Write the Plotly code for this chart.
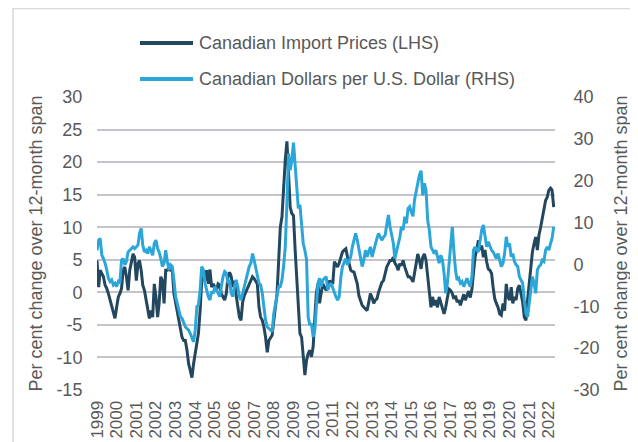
import pandas as pd
import plotly.graph_objects as go

# ---------------- data (monthly, Jan 1999 onward) ----------------
start_month = "1999-01-01"

import_prices = [
    4.9, 0.8, 3.4, 2.9, 2.4, 1.1, 0.6, -0.2, -1.2, -2.3, -3.3, -4.0,
    -2.3, -0.7, -0.2, 0.6, 3.4, 3.9, 2.4, 0.3, 3.4, 4.9, 5.9, 5.4,
    1.8, 4.4, 4.9, 3.4, 1.1, 0.3, -1.2, -2.8, -4.0, -2.8, -3.8, 1.3,
    -0.7, -3.8, -1.7, 2.4, 1.8, -1.7, 3.4, 3.4, 3.9, 3.4, 3.4, -0.2,
    -1.5, -2.8, -3.8, -5.5, -6.9, -7.4, -7.4, -8.9, -11.0, -12.0, -13.1, -11.0,
    -9.4, -7.9, -6.3, -2.8, 1.8, 3.4, 1.8, 3.4, 1.3, 3.5, 0.8, 1.3,
    0.8, 0.3, 1.3, 1.1, -0.2, -0.7, -1.2, -0.2, 2.4, 3.1, 2.4, 0.8,
    1.8, -0.5, -2.3, -3.8, -4.3, -1.5, -0.5, 0.1, 0.6, 1.3, 1.8, 2.4,
    2.1, 1.6, 1.3, -2.3, -3.8, -4.3, -5.3, -6.9, -9.2, -7.4, -6.9, -6.6,
    -4.3, -2.3, -0.2, 4.9, 10.0, 11.6, 16.2, 20.3, 23.2, 18.7, 13.1, 12.1,
    11.8, 6.5, 2.4, -2.3, -6.3, -6.9, -9.4, -12.7, -10.4, -9.4, -8.9, -9.9,
    -8.4, -3.8, -0.2, 1.3, -1.7, 0.0, 1.3, 0.8, 0.3, 1.0, 1.8, 1.5,
    1.3, 4.7, 4.2, 3.9, 4.5, 5.5, 6.2, 6.5, 6.7, 5.5, 4.5, 3.4,
    3.2, 3.1, 2.2, 1.3, -0.5, -1.2, -2.0, -2.3, -2.6, -2.8, -1.5, -0.2,
    -0.8, -1.7, -1.2, -1.0, 0.0, 0.8, 1.5, 1.8, 2.8, 3.9, 4.4, 4.9,
    4.9, 5.4, 4.5, 4.1, 3.4, 4.4, 4.1, 4.9, 3.9, 3.1, 2.4, 2.4,
    2.1, 1.6, 2.9, 4.9, 5.9, 4.9, 3.6, 5.4, 5.9, 4.9, 2.4, -0.2,
    -2.3, -0.7, -2.0, -1.2, -2.3, -0.7, -1.7, -2.3, -3.3, -2.3, -0.5, 0.5,
    0.3, -0.2, -1.0, -0.5, -1.5, -1.2, -2.0, -1.0, -0.3, -1.2, -0.5, 0.2,
    -0.8, 0.5, 3.0, 5.5, 6.5, 8.0, 6.5, 7.2, 5.4, 6.5, 4.7, 3.6,
    3.4, 2.9, 0.8, -1.0, -1.7, -2.3, -3.3, -3.5, -1.7, -2.8, 1.3, -0.7,
    -1.2, 0.8, -1.7, -0.7, -1.2, 0.6, 1.1, -0.2, -1.5, -3.8, -4.3, -1.2,
    1.8, 3.9, 6.2, 7.5, 8.5, 6.5, 8.8, 10.0, 11.6, 13.1, 14.1, 14.6,
    15.7, 16.0, 15.7, 13.1,
]

cad_per_usd = [
    3.4, 5.8, 6.2, 2.2, 1.4, 0.3, -1.3, -3.3, -4.1, -3.7, -4.9, -4.5,
    -5.3, -4.1, -4.5, 1.0, 1.4, -0.1, 0.7, 3.0, 3.4, 3.8, 4.2, 3.8,
    4.2, 4.6, 7.4, 8.6, 4.6, 3.0, 3.4, 2.6, 4.2, 3.4, 2.2, 5.0,
    5.8, 3.8, 3.0, 1.4, -0.5, 0.3, 3.4, 0.7, -1.3, -0.1, -0.5, -3.7,
    -7.7, -9.3, -10.9, -12.5, -12.9, -14.1, -14.9, -15.3, -15.7, -16.5, -17.7, -18.5,
    -15.7, -10.1, -9.7, -6.1, -0.5, -1.3, -4.5, -6.1, -7.7, -8.5, -6.5, -6.9,
    -5.3, -6.1, -6.9, -7.7, -5.3, -2.9, -1.7, -2.1, -4.5, -3.7, -6.9, -7.7,
    -5.3, -3.7, -5.3, -7.7, -8.5, -6.9, -5.3, -3.7, -2.1, -0.5, 0.3, 2.6,
    1.0, -0.9, -2.1, -4.5, -4.9, -6.9, -10.1, -13.3, -14.9, -15.3, -15.7, -16.1,
    -11.7, -9.3, -7.7, -5.3, -5.3, -3.7, -0.5, 4.2, 14.6, 26.5, 22.5, 24.9,
    29.1, 24.1, 18.6, 13.4, 14.2, 9.0, 5.0, 3.4, 1.1, -12.6, -14.5, -14.1,
    -17.3, -15.7, -10.1, -4.5, -3.3, -5.3, -3.7, -3.3, -2.9, -6.1, -5.0, -4.5,
    -5.7, -6.9, -7.7, -8.5, -7.7, -3.0, -0.5, 0.5, 1.4, -0.1, 1.0, 1.8,
    4.2, 6.0, 7.4, 5.8, 3.4, 1.0, -0.5, 1.1, 3.4, 1.8, 3.0, 4.2,
    1.8, 3.5, 5.0, 6.2, 7.4, 6.5, 5.8, 6.5, 7.0, 9.5, 11.8, 9.0,
    7.0, 5.0, 1.4, 3.0, 4.2, 6.5, 9.0, 8.2, 11.4, 9.8, 13.4, 13.8,
    12.5, 11.5, 15.4, 17.8, 19.4, 21.4, 22.4, 16.5, 19.4, 17.8, 10.6, 8.2,
    4.2, 3.4, 2.6, 3.4, 1.8, 0.3, 2.2, 1.1, -2.1, -6.9, -4.5, -0.5,
    3.4, 9.0, 3.4, -1.3, -3.7, -3.3, -4.5, -4.1, -5.3, -4.1, -3.3, -4.5,
    -5.3, -2.9, 3.4, 4.2, 3.4, 3.0, 5.8, 8.2, 9.4, 6.6, 4.2, 5.4,
    4.2, 3.4, 3.0, 2.2, 1.4, 2.6, 1.0, -0.5, 0.3, 2.6, 6.6, 4.2,
    5.0, 1.8, 2.6, 0.7, -0.1, -0.5, -2.9, -3.7, -4.5, -8.5, -11.7, -12.5,
    -9.3, -5.3, -2.9, -4.5, -6.9, -1.3, -0.5, -0.1, 1.0, 0.7, 3.4, 4.2,
    3.4, 5.0, 6.2, 9.0,
]

year_labels = ["1999", "2000", "2001", "2002", "2003", "2004", "2005", "2006",
               "2007", "2008", "2009", "2010", "2011", "2012", "2013", "2014",
               "2015", "2016", "2017", "2018", "2019", "2020", "2021", "2022"]

left_ticks = [-15, -10, -5, 0, 5, 10, 15, 20, 25, 30]
left_labels = ["-15", "-10", "-5", "0", "5", "10", "15", "20", "25", "30"]
right_ticks = [-30, -20, -10, 0, 10, 20, 30, 40]
right_labels = ["-30", "-20", "-10", "0", "10", "20", "30", "40"]

series_names = ["Canadian Import Prices (LHS)", "Canadian Dollars per U.S. Dollar (RHS)"]
axis_title = "Per cent change over 12-month span"

# ---------------- styling ----------------
DARK = "#23475E"
LIGHT = "#2CA6D8"
GRID = "#C4C4CA"
FRAME = "#D9D9D9"
TEXT = "#595959"
FONT = "Liberation Sans, Arial, sans-serif"
CLEAR = "rgba(0,0,0,0)"

W, H = 638, 442
L, T = 89, 89           # page is offset by the 8px body margin
pw, ph = 458, 293
R, B = W - L - pw, H - T - ph


def px_x(px):
    return (px - L) / pw


def px_y(py):
    return (T + ph - py) / ph


months = pd.date_range(start_month, periods=len(import_prices), freq="MS")
tick_dates = [f"{y}-01-01" for y in year_labels]

fig = go.Figure()
fig.add_trace(go.Scatter(x=months, y=import_prices, mode="lines", name=series_names[0],
                         line=dict(color=DARK, width=3), yaxis="y"))
fig.add_trace(go.Scatter(x=months, y=cad_per_usd, mode="lines", name=series_names[1],
                         line=dict(color=LIGHT, width=3), yaxis="y2"))

shapes = [
    dict(type="rect", xref="paper", yref="paper", x0=px_x(5), x1=px_x(624),
         y0=px_y(470), y1=px_y(0.5), line=dict(color=FRAME, width=1.5), layer="below"),
]
annotations = []
for name, col, py in zip(series_names, [DARK, LIGHT], [35, 71]):
    shapes.append(dict(type="line", xref="paper", yref="paper", x0=px_x(132), x1=px_x(185),
                       y0=px_y(py), y1=px_y(py), line=dict(color=col, width=4)))
    annotations.append(dict(xref="paper", yref="paper", x=px_x(189), y=px_y(py), text=name,
                            showarrow=False, xanchor="left", yanchor="middle",
                            font=dict(size=18, color=TEXT, family=FONT)))

fig.update_layout(
    width=W, height=H,
    margin=dict(l=L, r=R, t=T, b=B, autoexpand=False),
    paper_bgcolor="white", plot_bgcolor="white",
    showlegend=False,
    font=dict(family=FONT, size=18, color=TEXT),
    shapes=shapes,
    annotations=annotations,
    xaxis=dict(type="date", range=["1999-01-01", "2022-04-25"], tickvals=tick_dates,
               ticktext=year_labels, tickangle=-90, showgrid=False, zeroline=False,
               showline=False, ticks="outside", ticklen=3, tickcolor=CLEAR,
               automargin=False, tickfont=dict(size=17, color=TEXT)),
    yaxis=dict(range=[-15, 30], tickvals=left_ticks, ticktext=left_labels,
               showgrid=True, gridcolor=GRID, gridwidth=2, zeroline=False,
               showline=False, ticks="outside", ticklen=10, tickcolor=CLEAR,
               automargin=False, tickfont=dict(size=18, color=TEXT),
               title=dict(text=axis_title, standoff=9, font=dict(size=18, color=TEXT))),
    yaxis2=dict(range=[-30, 40], tickvals=right_ticks, ticktext=right_labels,
                overlaying="y", side="right", showgrid=False, zeroline=False,
                showline=False, ticks="outside", ticklen=14, tickcolor=CLEAR,
                automargin=False, tickfont=dict(size=18, color=TEXT),
                title=dict(text=axis_title, standoff=15, font=dict(size=18, color=TEXT))),
)

fig.write_html("out.html")
